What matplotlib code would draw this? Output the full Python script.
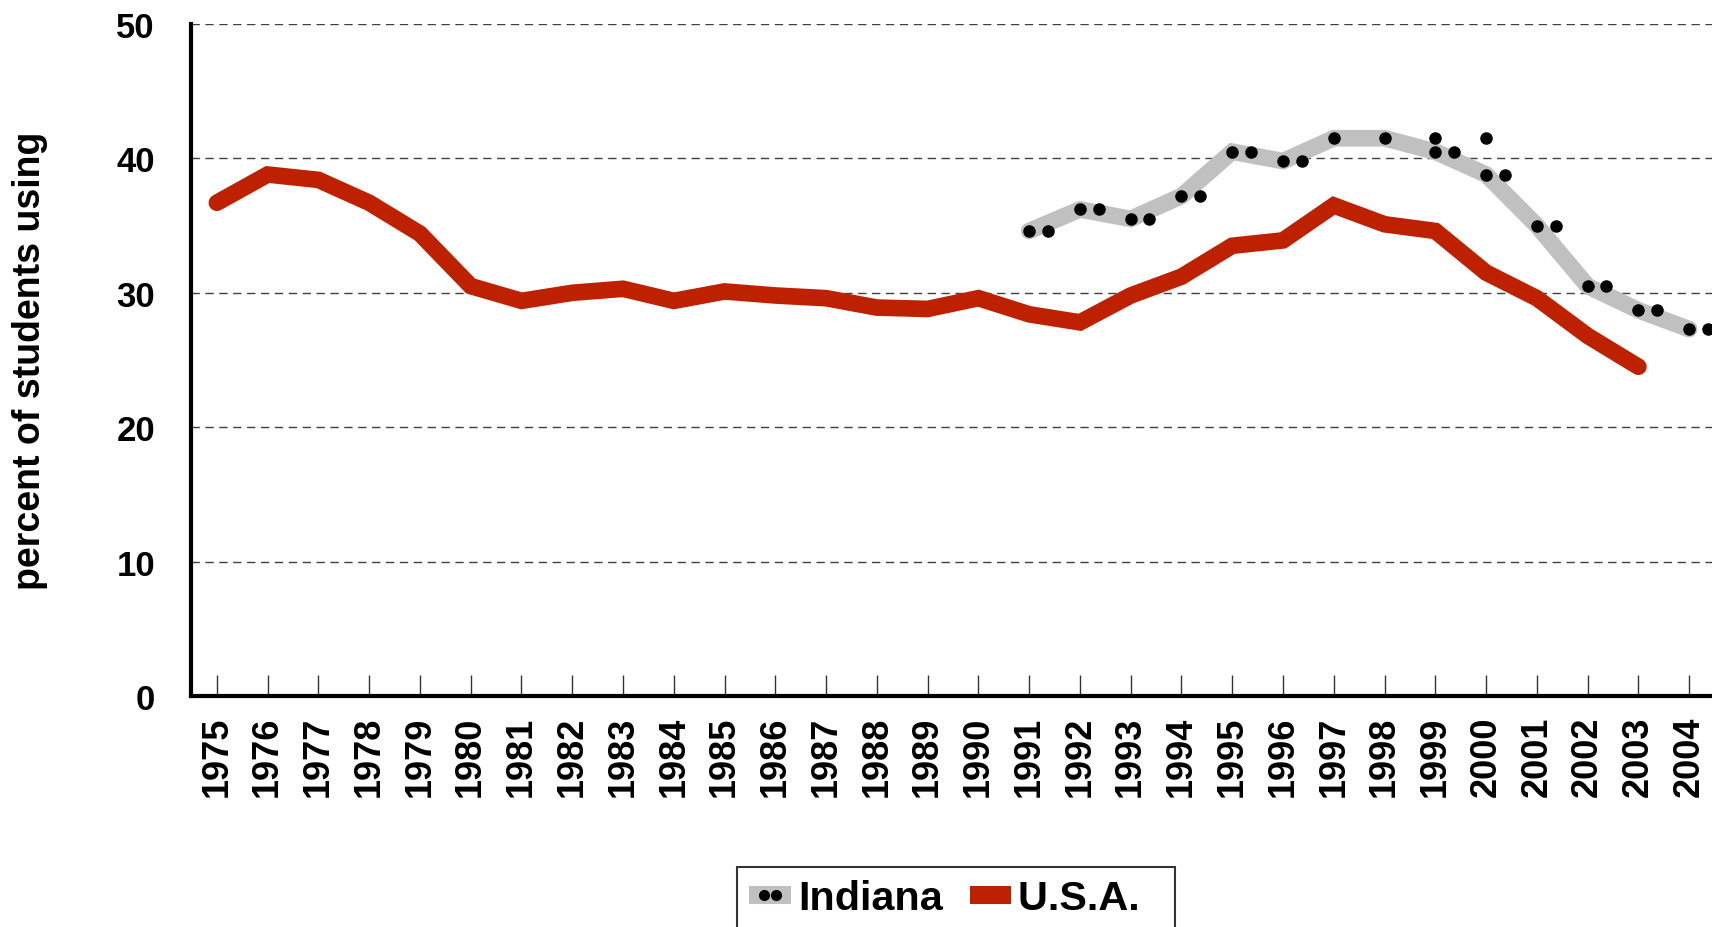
"""Percent of students using: Indiana vs U.S.A., 1975-2004."""
import matplotlib
matplotlib.use("Agg")
import matplotlib.pyplot as plt  # noqa: E402
from matplotlib.lines import Line2D  # noqa: E402
from matplotlib.legend_handler import HandlerLine2D  # noqa: E402

RED, GRAY = "#BE2100", "#C0C0C0"
plt.rcParams.update({"font.family": ["Liberation Sans", "DejaVu Sans"],
                     "font.weight": "bold"})

years = list(range(1975, 2005))
usa_years = list(range(1975, 2004))
usa = [36.7, 38.8, 38.4, 36.7, 34.4, 30.5, 29.4, 30.0, 30.3, 29.4,
       30.1, 29.8, 29.6, 28.9, 28.8, 29.6, 28.4, 27.8, 29.8, 31.2,
       33.5, 33.9, 36.5, 35.1, 34.6, 31.5, 29.6, 26.8, 24.5]
ind_years = list(range(1991, 2005))
indiana = [34.6, 36.2, 35.5, 37.2, 40.5, 39.8, 41.5, 41.5, 40.5, 38.8,
           35.0, 30.5, 28.7, 27.3]
# second dot of each pair is missing for these years
single_dot_years = [1997, 1998]
# stray dots that sit above the line
stray_years = [1999, 2000]
stray_vals = [41.5, 41.5]


def main():
    fig = plt.figure(figsize=(17.12, 9.28), dpi=100)
    ax = fig.add_axes([191 / 1712, 231 / 928, 1 - 191 / 1712, 672 / 928])

    for v in (10, 20, 30, 40, 50):
        ax.axhline(v, color="#404040", lw=1.0, ls=(0, (6, 4)), zorder=1)

    ax.plot(ind_years, indiana, color=GRAY, lw=12, solid_capstyle="round",
            solid_joinstyle="miter", zorder=2)
    ax.plot(usa_years, usa, color=RED, lw=12, solid_capstyle="round",
            solid_joinstyle="miter", zorder=2)

    dx = [y for y in ind_years] + [y + 0.37 for y in ind_years if y not in single_dot_years]
    dy = indiana + [v for y, v in zip(ind_years, indiana) if y not in single_dot_years]
    ax.plot(dx + stray_years, dy + stray_vals, ls="", marker="o", ms=8,
            color="black", zorder=3, clip_on=False)

    ax.set_xlim(1974.49, 2004.45)
    ax.set_ylim(0, 50)
    ax.set_xticks(years)
    ax.set_xticklabels([str(y) for y in years], rotation=90, fontsize=26,
                       fontweight="bold")
    ax.set_yticks([0, 10, 20, 30, 40, 50])
    ax.set_yticklabels(["0", "10", "20", "30", "40", "50"], fontsize=25,
                       fontweight="bold")
    ax.tick_params(axis="x", direction="in", length=15, width=1,
                   color="#333333", pad=14)
    ax.tick_params(axis="y", length=0, pad=26)
    ax.set_ylabel("percent of students using", fontsize=27, fontweight="bold")
    ax.yaxis.set_label_coords(-0.094, 0.5)

    for sp in ("top", "right"):
        ax.spines[sp].set_visible(False)
    for sp in ("left", "bottom"):
        ax.spines[sp].set_linewidth(3)

    g = Line2D([], [], color=GRAY, lw=13, solid_capstyle="butt")
    d = Line2D([], [], ls="", marker="o", ms=7, color="black")
    r = Line2D([], [], color=RED, lw=13, solid_capstyle="butt")
    hmap = {g: HandlerLine2D(numpoints=1), r: HandlerLine2D(numpoints=1),
            d: HandlerLine2D(numpoints=2, marker_pad=0.35)}
    leg = fig.legend([(g, d), r], ["Indiana", "U.S.A.  "], ncol=2,
                     handler_map=hmap,
                     loc="upper left", bbox_to_anchor=(737 / 1712, 1 - 868 / 928),
                     fontsize=29.8, frameon=True, fancybox=False,
                     handlelength=1.0, handletextpad=0.17, columnspacing=0.65,
                     borderpad=0.3, borderaxespad=0)
    leg.get_frame().set_edgecolor("black")
    leg.get_frame().set_linewidth(1.5)
    for t in leg.get_texts():
        t.set_fontweight("bold")

    fig.savefig("out.png", dpi=100)


if __name__ == "__main__":
    main()
